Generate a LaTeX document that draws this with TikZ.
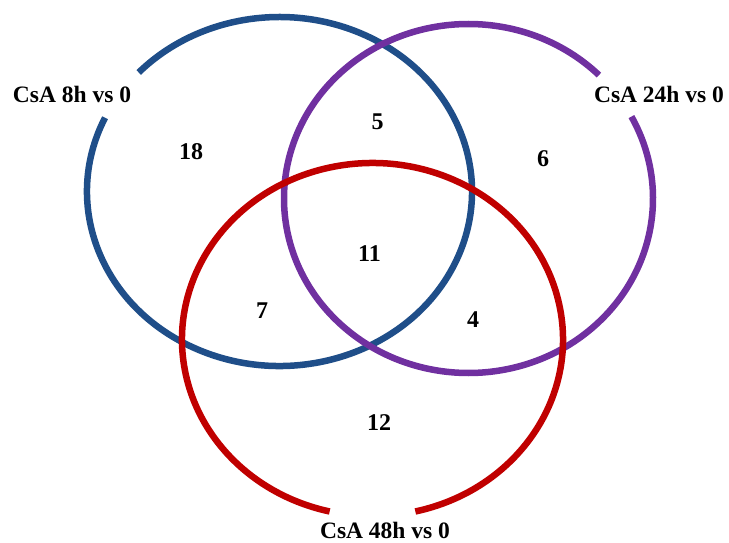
\documentclass[tikz,border=0pt]{standalone}
\usepackage{fontspec}
\setmainfont{Liberation Serif}
\definecolor{vblue}{HTML}{1F4E89}
\definecolor{vpurple}{HTML}{7030A0}
\definecolor{vred}{HTML}{C00000}
\begin{document}
\begin{tikzpicture}[x=1pt,y=1pt,
  ring/.style={line width=6.5pt},
  setlabel/.style={anchor=base,font=\fontsize{23.5}{28}\selectfont\bfseries,inner sep=0pt},
  count/.style={font=\fontsize{24}{28}\selectfont\bfseries,inner sep=0pt}]
\useasboundingbox (0,0) rectangle (729,542);
\coordinate (cb) at (279.5,350.5);
\coordinate (cp) at (468.5,343.5);
\coordinate (cr) at (372.5,202.5);
% blue set
\draw[ring,vblue] ([shift={(155:192.5 and 174.5)}]cb) arc[start angle=155,end angle=497,x radius=192.5,y radius=174.5];
% purple set
\draw[ring,vpurple] ([shift={(45:184.5 and 174.5)}]cp) arc[start angle=45,end angle=388,x radius=184.5,y radius=174.5];
% red set
\draw[ring,vred] ([shift={(-77:190.5 and 176.5)}]cr) arc[start angle=-77,end angle=257,x radius=190.5,y radius=176.5];
% set labels
\node[setlabel] (l8) at (72,439) {CsA 8h vs 0};
\node[setlabel] (l24) at (659,439) {CsA 24h vs 0};
\node[setlabel] (l48) at (385,4) {CsA 48h vs 0};
% counts
\node[count] (n18) at (191,390.5) {18};
\node[count] (n5) at (377.5,420) {5};
\node[count] (n6) at (543,383) {6};
\node[count] (n11) at (369.5,288) {11};
\node[count] (n7) at (262,231) {7};
\node[count] (n4) at (473,222) {4};
\node[count] (n12) at (379,119) {12};
\end{tikzpicture}
\end{document}
